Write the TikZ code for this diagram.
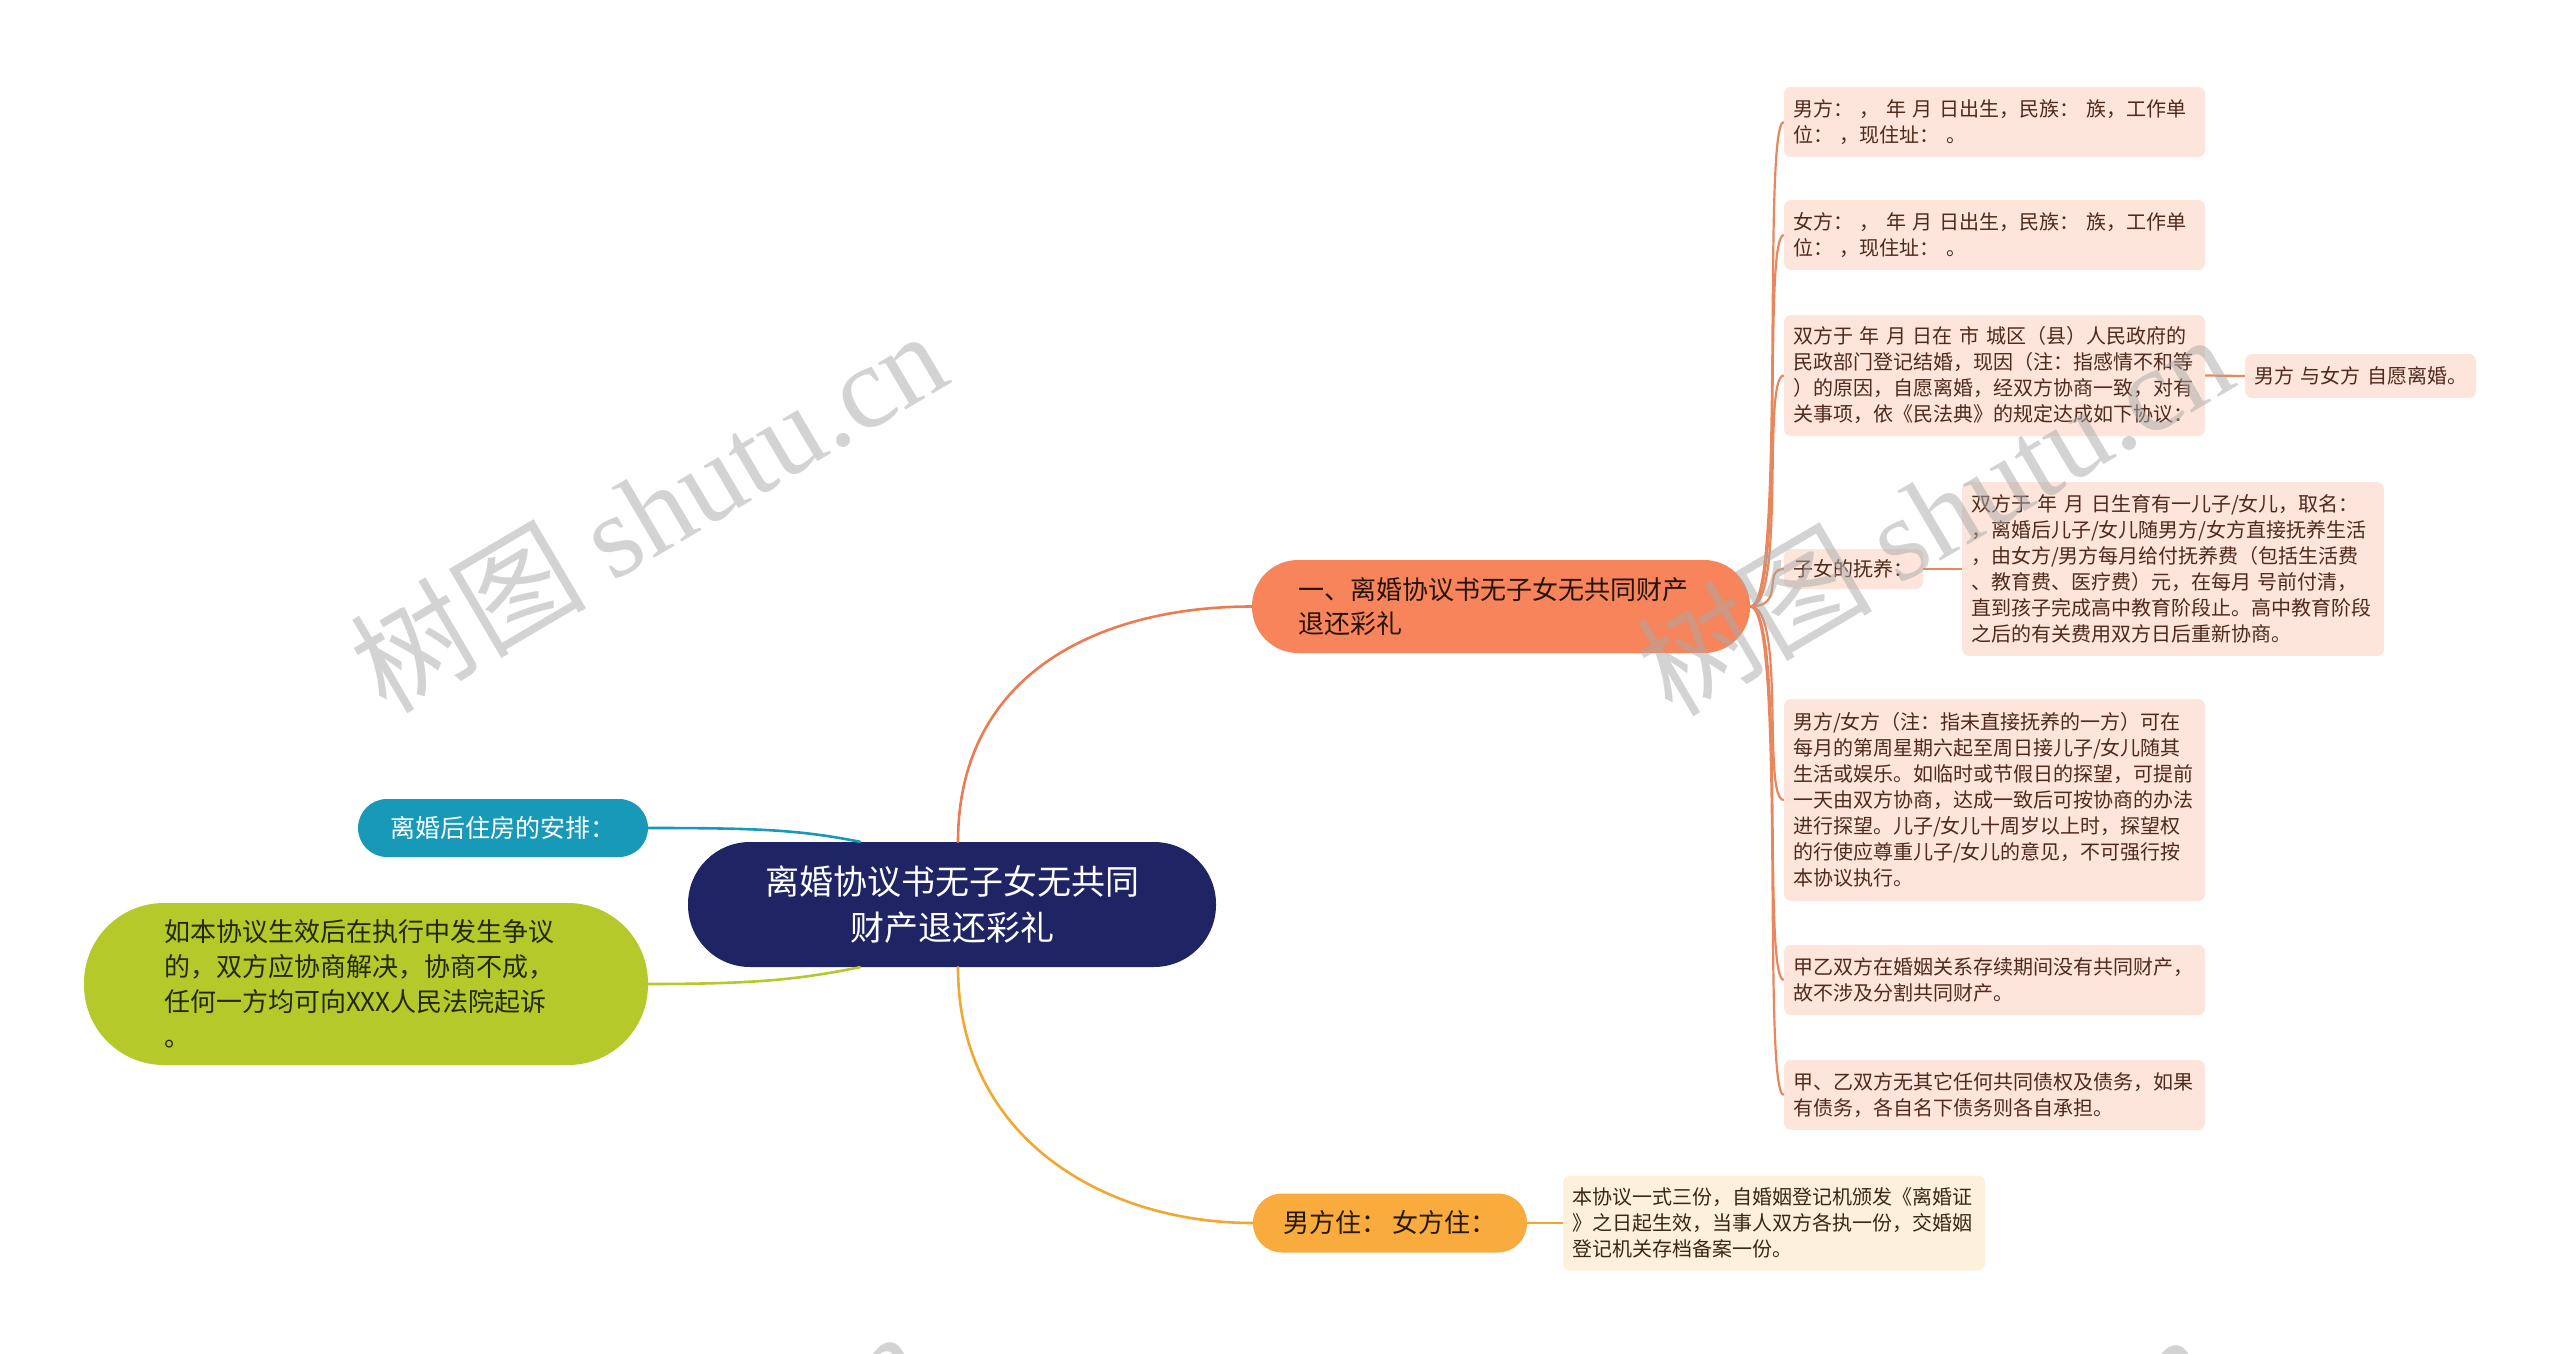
\documentclass[tikz,border=0pt]{standalone}
\usepackage{fontspec}
\setmainfont{Noto Sans CJK SC}
\newfontfamily\wmlatin{Liberation Serif}
\newfontfamily\wmcjk{Noto Sans CJK SC}
\usetikzlibrary{calc}
\definecolor{rootc}{HTML}{1F2464}
\definecolor{orangec}{HTML}{F7845A}
\definecolor{orangel}{HTML}{EC7B52}
\definecolor{yellowc}{HTML}{F9AC3D}
\definecolor{yellowl}{HTML}{F0A830}
\definecolor{tealc}{HTML}{1899B8}
\definecolor{greenc}{HTML}{B5C92A}
\definecolor{pinkc}{HTML}{FDE5DB}
\definecolor{creamc}{HTML}{FEF1DC}
\definecolor{childtxt}{HTML}{4F2A1C}
\definecolor{childln}{HTML}{E8875E}
\definecolor{wmgray}{HTML}{A8A8A8}
\begin{document}
\begin{tikzpicture}[x=1pt,y=-1pt,
  pill/.style={rounded corners=#1, inner sep=0pt, align=left},
  leafbox/.style={fill=pinkc, rounded corners=7pt, text=childtxt,
     font=\fontsize{20}{26}\selectfont, align=left, inner xsep=9pt, inner ysep=6pt},
  conn/.style={line width=2.6pt, line cap=round},
  leafln/.style={line width=2.2pt, childln},
  wmark/.style={text=wmgray, text opacity=0.5, rotate=30.5, inner sep=0pt}
]
\useasboundingbox (0,0) rectangle (2560,1354);

% ---------- root ----------
\node[pill=62pt, fill=rootc, text=white, minimum width=528pt, minimum height=125pt,
      align=center, font=\fontsize{34}{46}\selectfont] (root) at (952,904.5)
      {离婚协议书无子女无共同\\财产退还彩礼};

% ---------- main branches ----------
\node[pill=46pt, fill=orangec, text=black!85!orangec, minimum width=498pt, minimum height=93pt,
      text width=406pt, inner xsep=46pt, font=\fontsize{26}{34}\selectfont] (b1) at (1501,606.5)
      {一、离婚协议书无子女无共同财产\\退还彩礼};
\node[pill=29pt, fill=yellowc, text=black!85!yellowc, minimum width=274pt, minimum height=59pt,
      align=center, font=\fontsize{26}{34}\selectfont] (b2) at (1390,1223)
      {男方住：~女方住：};
\node[pill=29pt, fill=tealc, text=white, minimum width=290pt, minimum height=58pt,
      align=center, font=\fontsize{25}{32}\selectfont] (b3) at (503,828)
      {离婚后住房的安排：};
\node[pill=80pt, fill=greenc, text=black!80!greenc, minimum width=564pt, minimum height=162pt,
      text width=404pt, inner xsep=80pt, font=\fontsize{26}{35}\selectfont] (b4) at (366,984)
      {如本协议生效后在执行中发生争议\\的，双方应协商解决，协商不成，\\任何一方均可向XXX人民法院起诉\\。};

% ---------- leaves of branch 1 ----------
\node[leafbox, text width=403pt, minimum height=70pt] (c1) at (1994.5,122)
  {男方：~，~年~月~日出生，民族：~族，工作单\\位：~，现住址：~。};
\node[leafbox, text width=403pt, minimum height=70pt] (c2) at (1994.5,235)
  {女方：~，~年~月~日出生，民族：~族，工作单\\位：~，现住址：~。};
\node[leafbox, text width=403pt, minimum height=121pt] (c3) at (1994.5,375.5)
  {双方于~年~月~日在~市~城区（县）人民政府的\\民政部门登记结婚，现因（注：指感情不和等\\）的原因，自愿离婚，经双方协商一致，对有\\关事项，依《民法典》的规定达成如下协议：};
\node[leafbox, text width=213pt, minimum height=44pt] (c3a) at (2360.5,376)
  {男方~与女方~自愿离婚。};
\node[leafbox, text width=121pt, minimum height=40pt] (c4) at (1853.5,569)
  {子女的抚养：};
\node[leafbox, text width=404pt, minimum height=174pt] (c4a) at (2173,569)
  {双方于~年~月~日生育有一儿子/女儿，取名：\\，离婚后儿子/女儿随男方/女方直接抚养生活\\，由女方/男方每月给付抚养费（包括生活费\\、教育费、医疗费）元，在每月~号前付清，\\直到孩子完成高中教育阶段止。高中教育阶段\\之后的有关费用双方日后重新协商。};
\node[leafbox, text width=403pt, minimum height=202pt] (c5) at (1994.5,800)
  {男方/女方（注：指未直接抚养的一方）可在\\每月的第周星期六起至周日接儿子/女儿随其\\生活或娱乐。如临时或节假日的探望，可提前\\一天由双方协商，达成一致后可按协商的办法\\进行探望。儿子/女儿十周岁以上时，探望权\\的行使应尊重儿子/女儿的意见，不可强行按\\本协议执行。};
\node[leafbox, text width=403pt, minimum height=70pt] (c6) at (1994.5,980)
  {甲乙双方在婚姻关系存续期间没有共同财产，\\故不涉及分割共同财产。};
\node[leafbox, text width=403pt, minimum height=70pt] (c7) at (1994.5,1095)
  {甲、乙双方无其它任何共同债权及债务，如果\\有债务，各自名下债务则各自承担。};

% ---------- leaf of branch 2 ----------
\node[leafbox, fill=creamc, text=black!70!brown, text width=404pt, minimum height=95pt] (d1) at (1774,1223)
  {本协议一式三份，自婚姻登记机颁发《离婚证\\》之日起生效，当事人双方各执一份，交婚姻\\登记机关存档备案一份。};

% ---------- connectors from root ----------
\coordinate (rtl) at ($(root.north)+(-92,0)$);
\coordinate (rbl) at ($(root.south)+(-92,0)$);
\coordinate (rt) at ($(root.north)+(6,0)$);
\coordinate (rb) at ($(root.south)+(6,0)$);
\draw[conn, orangel] (rt) .. controls ($(rt)+(0,-170)$) and ($(b1.west)+(-150,0)$) .. (b1.west);
\draw[conn, yellowl] (rb) .. controls ($(rb)+(0,170)$) and ($(b2.west)+(-150,0)$) .. (b2.west);
\draw[conn, tealc] (b3.east) .. controls ($(b3.east)+(110,0)$) and ($(rtl)+(-60,-12)$) .. (rtl);
\draw[conn, greenc] (b4.east) .. controls ($(b4.east)+(110,0)$) and ($(rbl)+(-60,12)$) .. (rbl);

% ---------- connectors from branch 1 ----------
\foreach \c in {c1,c2,c3,c4,c5,c6,c7}{
  \draw[leafln] (b1.east) .. controls ($(b1.east)+(36,0)$) and ($(\c.west)+(-22,0)$) .. (\c.west);
}
\draw[leafln] (c3.east) -- (c3a.west);
\draw[leafln] (c4.east) -- (c4a.west);
\draw[line width=2.2pt, yellowl] (b2.east) -- (d1.west);

% ---------- watermarks ----------
\foreach \p in {(648,510),(1934,513),(624,1510),(1910,1513)}{
  \node[wmark] at \p {\fontsize{118}{118}\selectfont\wmcjk 树图\ \wmlatin shutu.cn};
}
\end{tikzpicture}
\end{document}
